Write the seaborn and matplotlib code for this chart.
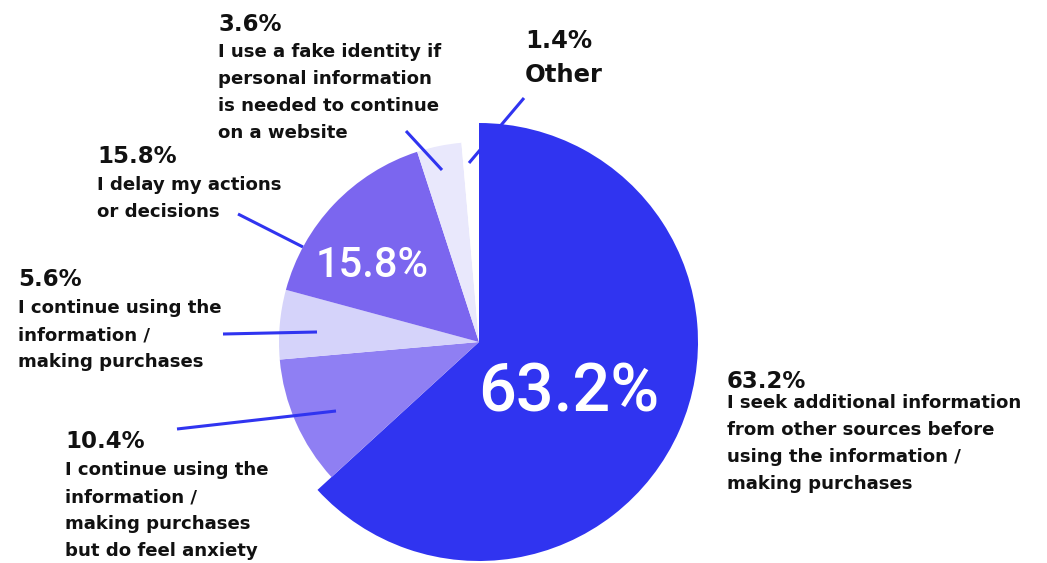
import matplotlib
matplotlib.use("Agg")
import matplotlib.pyplot as plt
import seaborn as sns

sns.set_theme(style="white")
plt.rcParams["font.family"] = ["DejaVu Sans"]

# Survey answers, clockwise from 12 o'clock
shares = [63.2, 10.4, 5.6, 15.8, 3.6, 1.4]
answers = [
    "I seek additional information\nfrom other sources before\nusing the information /\nmaking purchases",
    "I continue using the\ninformation /\nmaking purchases\nbut do feel anxiety",
    "I continue using the\ninformation /\nmaking purchases",
    "I delay my actions\nor decisions",
    "I use a fake identity if\npersonal information\nis needed to continue\non a website",
    "Other",
]
colors = ["#3034F0", "#8F7FF3", "#D5D3FA", "#7B66EF", "#E9E8FC", "#FFFFFF"]
accent = "#3034F0"

W, H = 1047, 563
fig = plt.figure(figsize=(W / 100, H / 100), dpi=100)
ax = fig.add_axes([0, 0, 1, 1])


def py(y):
    # screen-style y (from the top) to axes y
    return H - y


cx, cy = 479, py(342)
wedges, _ = ax.pie(shares, colors=colors, startangle=90, counterclock=False,
                   center=(cx, cy), radius=200,
                   wedgeprops=dict(linewidth=0))
# the dominant answer is drawn with a larger radius
wedges[0].set_radius(219)

ax.set_xlim(0, W)
ax.set_ylim(0, H)
ax.set_aspect("equal")
ax.axis("off")

# values written inside the two biggest slices
big_font = ["Roboto", "DejaVu Sans"]
ax.text(569, py(412), f"{shares[0]}%", color="white", fontsize=48,
        fontweight="medium", family=big_font, ha="center", va="baseline")
ax.text(372, py(277), f"{shares[3]}%", color="white", fontsize=30,
        fontweight="medium", family=big_font, ha="center", va="baseline")

# outside labels: (x, title baseline, first body baseline)
label_pos = {
    0: (727, 388, 408),
    1: (65, 448, 475),
    2: (18, 286, 313),
    3: (97, 163, 190),
    4: (218, 31, 57),
}
step = 27
for i, (x, tb, bb) in label_pos.items():
    ax.text(x, py(tb), f"{shares[i]}%", fontsize=16.5, fontweight="semibold",
            color="#111111", ha="left", va="baseline")
    for k, line in enumerate(answers[i].split("\n")):
        ax.text(x, py(bb + k * step), line, fontsize=13.1, fontweight="semibold",
                color="#111111", ha="left", va="baseline")

ax.text(525, py(48), f"{shares[5]}%", fontsize=17.5, fontweight="semibold",
        color="#111111", ha="left", va="baseline")
ax.text(525, py(82), answers[5], fontsize=17.5, fontweight="semibold",
        color="#111111", ha="left", va="baseline")

# leader lines
leaders = [
    ((469, 163), (524, 98)),
    ((442, 170), (406, 131)),
    ((303, 247), (238, 214)),
    ((317, 332), (223, 334)),
    ((336, 411), (177, 429)),
]
for (x0, y0), (x1, y1) in leaders:
    ax.plot([x0, x1], [py(y0), py(y1)], color=accent, lw=2.2,
            solid_capstyle="butt")

fig.savefig("out.png", dpi=100, facecolor="white")
